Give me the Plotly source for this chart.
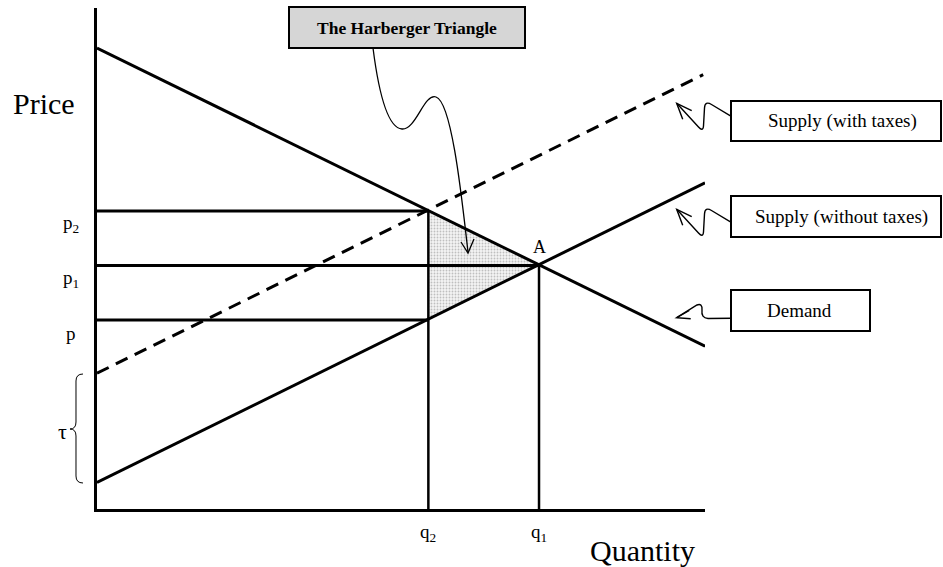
import plotly.graph_objects as go

# ---------------- data ----------------
q2 = 5.45          # quantity with taxes
q1 = 7.27          # equilibrium quantity (point A)
p2 = 5.95          # price paid by consumers
p1 = 4.86          # equilibrium price
p0 = 3.77          # price received by producers

demand_x = [0, 10]
demand_y = [9.20, 3.25]
supply_x = [0, 10]
supply_y = [0.53, 6.51]
supply_tax_x = [0, 9.97]
supply_tax_y = [2.71, 8.67]

price_labels = ["p<sub>2</sub>", "p<sub>1</sub>", "p"]
price_values = [p2, p1, p0]
qty_labels = ["q<sub>2</sub>", "q<sub>1</sub>"]
qty_values = [q2, q1]

box_labels = ["Supply (with taxes)", "Supply (without taxes)", "Demand"]

# ---------------- layout constants ----------------
W, H = 943, 567
L, R, T, B = 97, 705, 8, 509          # plot area in screen pixels
FONT = "Liberation Serif, Times New Roman, serif"


def pp(x, y):
    """screen pixel -> paper coordinates (for decorations only)"""
    return ((x - L) / (R - L), (B - y) / (B - T))


def path(cmds):
    out = []
    for c, pts in cmds:
        s = c
        for (x, y) in pts:
            a, b = pp(x, y)
            s += f" {a:.5f},{b:.5f}"
        out.append(s)
    return " ".join(out)


fig = go.Figure()

# Harberger triangle (shaded)
fig.add_trace(go.Scatter(
    x=[q2, q1, q2, q2], y=[p2, p1, p0, p2], mode="lines", fill="toself",
    fillcolor="rgba(0,0,0,0)",
    fillpattern=dict(shape=".", fgcolor="#8a8a8a", bgcolor="#f4f4f4", size=3, solidity=0.3),
    line=dict(width=0), hoverinfo="skip"))

# price guide lines
fig.add_trace(go.Scatter(x=[0, q2], y=[p2, p2], mode="lines", line=dict(color="black", width=3)))
fig.add_trace(go.Scatter(x=[0, q1], y=[p1, p1], mode="lines", line=dict(color="black", width=3)))
fig.add_trace(go.Scatter(x=[0, q2], y=[p0, p0], mode="lines", line=dict(color="black", width=3)))
# quantity guide lines
fig.add_trace(go.Scatter(x=[q2, q2], y=[0, p2], mode="lines", line=dict(color="black", width=2.5)))
fig.add_trace(go.Scatter(x=[q1, q1], y=[0, p1], mode="lines", line=dict(color="black", width=2.5)))

# curves
fig.add_trace(go.Scatter(x=demand_x, y=demand_y, mode="lines", line=dict(color="black", width=3)))
fig.add_trace(go.Scatter(x=supply_x, y=supply_y, mode="lines", line=dict(color="black", width=3)))
fig.add_trace(go.Scatter(x=supply_tax_x, y=supply_tax_y, mode="lines",
                         line=dict(color="black", width=3, dash="13px,8px")))

shapes = []
annotations = []

# Harberger box
hx0, hy0 = pp(289, 48)
hx1, hy1 = pp(525, 7)
shapes.append(dict(type="rect", xref="paper", yref="paper", x0=hx0, y0=hy0, x1=hx1, y1=hy1,
                   line=dict(color="black", width=2), fillcolor="#d6d6d6", layer="above"))
cx, cy = pp(407, 27.5)
annotations.append(dict(xref="paper", yref="paper", x=cx, y=cy, text="<b>The Harberger Triangle</b>",
                        showarrow=False, xanchor="center", yanchor="middle",
                        font=dict(family=FONT, size=17.5, color="black")))
# squiggle arrow to triangle
shapes.append(dict(type="path", xref="paper", yref="paper", layer="above",
                   path=path([("M", [(373, 48)]), ("C", [(379, 95), (388, 128), (402, 129)]),
                              ("C", [(416, 130), (424, 93), (436, 97)]),
                              ("C", [(452, 102), (462, 200), (468, 252)])]),
                   line=dict(color="black", width=1.3)))
shapes.append(dict(type="path", xref="paper", yref="paper", layer="above",
                   path=path([("M", [(461, 242)]), ("L", [(468, 253)]), ("L", [(474, 239)])]),
                   line=dict(color="black", width=1.3)))

# right-hand label boxes
boxes = [(731, 101, 941, 141, 842, 121),
         (731, 196, 941, 237, 841.5, 216.5),
         (731, 290, 870, 331, 799, 310.5)]
for lab, (x0, y0, x1, y1, tx, ty) in zip(box_labels, boxes):
    a0, b0 = pp(x0, y1)
    a1, b1 = pp(x1, y0)
    shapes.append(dict(type="rect", xref="paper", yref="paper", x0=a0, y0=b0, x1=a1, y1=b1,
                       line=dict(color="black", width=2), fillcolor="white", layer="above"))
    a, b = pp(tx, ty)
    annotations.append(dict(xref="paper", yref="paper", x=a, y=b, text=lab,
                            showarrow=False, xanchor="center", yanchor="middle",
                            font=dict(family=FONT, size=19, color="black")))

# squiggles for supply boxes
for dy in (0, 106):
    shapes.append(dict(type="path", xref="paper", yref="paper", layer="above",
                       path=path([("M", [(731.7, 116.7 + dy)]), ("L", [(711.5, 104.5 + dy)]),
                                  ("Q", [(705, 100.5 + dy), (704.5, 108 + dy)]),
                                  ("L", [(703.5, 126 + dy)]),
                                  ("Q", [(703, 132 + dy), (698.5, 127 + dy)]),
                                  ("L", [(676.7, 103.3 + dy)])]),
                       line=dict(color="black", width=1.4)))
    shapes.append(dict(type="path", xref="paper", yref="paper", layer="above",
                       path=path([("M", [(691.7, 110.7 + dy)]), ("L", [(676.7, 103.3 + dy)]),
                                  ("L", [(682.7, 119.3 + dy)])]),
                       line=dict(color="black", width=1.4)))
# squiggle for demand box
shapes.append(dict(type="path", xref="paper", yref="paper", layer="above",
                   path=path([("M", [(731.7, 318.3)]), ("L", [(708, 318.5)]),
                              ("Q", [(701, 318), (702, 310)]),
                              ("Q", [(702.5, 303), (697, 305)]),
                              ("L", [(676.7, 317.7)])]),
                   line=dict(color="black", width=1.4)))
shapes.append(dict(type="path", xref="paper", yref="paper", layer="above",
                   path=path([("M", [(689.3, 310.5)]), ("L", [(676.7, 317.7)]), ("L", [(690.7, 318.8)])]),
                   line=dict(color="black", width=1.4)))

# tau brace
shapes.append(dict(type="path", xref="paper", yref="paper", layer="above",
                   path=path([("M", [(83, 374)]), ("Q", [(76, 374), (76, 381)]), ("L", [(76, 422)]),
                              ("Q", [(76, 429), (70, 429)]), ("Q", [(76, 429), (76, 436)]),
                              ("L", [(76, 476)]), ("Q", [(76, 483), (83, 483)])]),
                   line=dict(color="black", width=1)))
a, b = pp(62.5, 432)
annotations.append(dict(xref="paper", yref="paper", x=a, y=b, text="τ", showarrow=False,
                        xanchor="center", yanchor="middle", font=dict(family=FONT, size=22, color="black")))

# price labels
for lab, v in zip(price_labels, price_values):
    a, _ = pp(71, 0)
    annotations.append(dict(xref="paper", yref="y", x=a, y=v, text=lab, showarrow=False,
                            xanchor="center", yanchor="middle", yshift=-13,
                            font=dict(family=FONT, size=19, color="black")))
# quantity labels
for lab, v in zip(qty_labels, qty_values):
    _, b = pp(0, 533)
    annotations.append(dict(xref="x", yref="paper", x=v, y=b, text=lab, showarrow=False,
                            xanchor="center", yanchor="middle",
                            font=dict(family=FONT, size=19, color="black")))
# point A
annotations.append(dict(xref="x", yref="y", x=q1, y=p1, text="A", showarrow=False,
                        xanchor="center", yanchor="middle", yshift=19,
                        font=dict(family=FONT, size=18, color="black")))
# axis titles
a, b = pp(43.5, 104)
annotations.append(dict(xref="paper", yref="paper", x=a, y=b, text="Price", showarrow=False,
                        xanchor="center", yanchor="middle", font=dict(family=FONT, size=30, color="black")))
a, b = pp(642, 550)
annotations.append(dict(xref="paper", yref="paper", x=a, y=b, text="Quantity", showarrow=False,
                        xanchor="center", yanchor="middle", font=dict(family=FONT, size=30, color="black")))

fig.update_layout(
    width=W, height=H,
    margin=dict(l=L, r=W - R, t=T, b=H - B, autoexpand=False),
    paper_bgcolor="white", plot_bgcolor="white",
    showlegend=False,
    xaxis=dict(range=[0, 10], showline=True, linecolor="black", linewidth=2.5, showgrid=False,
               zeroline=False, showticklabels=False, ticks=""),
    yaxis=dict(range=[0, 10], showline=True, linecolor="black", linewidth=2.5, showgrid=False,
               zeroline=False, showticklabels=False, ticks=""),
    shapes=shapes, annotations=annotations,
)

fig.write_html("out.html", config={"displayModeBar": False},
               post_script="document.body.style.margin='0px';document.body.style.overflow='hidden';")
